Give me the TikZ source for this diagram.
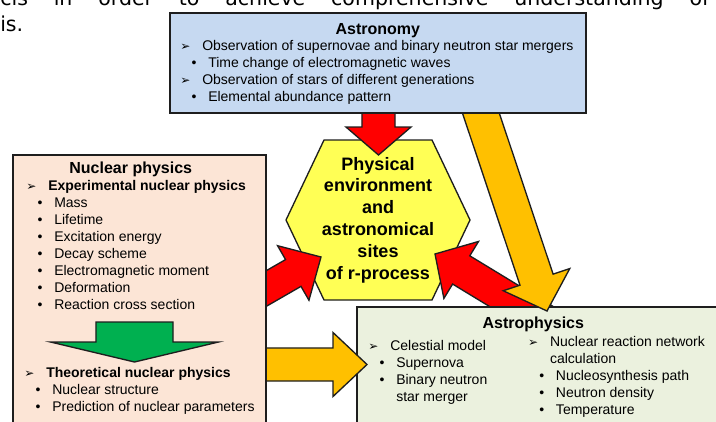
\documentclass[tikz,border=0pt]{standalone}
\usepackage{fontspec}
\setmainfont{Liberation Sans}
\newfontfamily\markfont{DejaVu Sans}
\newfontfamily\parafont{DejaVu Sans}
\usetikzlibrary{calc}
\usetikzlibrary{positioning}

\definecolor{astronomyfill}{RGB}{198,217,241}
\definecolor{nuclearfill}{RGB}{252,229,214}
\definecolor{astrofill}{RGB}{235,241,222}
\definecolor{sitefill}{RGB}{255,255,85}
\definecolor{flowred}{RGB}{255,0,0}
\definecolor{floworange}{RGB}{255,192,0}
\definecolor{flowgreen}{RGB}{0,176,80}
\definecolor{edge}{RGB}{30,30,30}

% list markers
\newcommand{\pointitem}{\makebox[16.5pt][l]{\markfont\fontsize{9}{10}\selectfont ➢}}
\newcommand{\dotitem}{\hspace*{8.6pt}\makebox[12.4pt][l]{•}}

% block arrow: [style]{from}{to}{half shaft}{half head}{head length}
\newcommand{\blockarrow}[6][]{%
  \coordinate (ba-neck) at ($(#3)!#6!(#2)$);
  \draw[flow,#1] ($(#2)!#4!90:(#3)$) -- ($(ba-neck)!#4!90:(#3)$) -- ($(ba-neck)!#5!90:(#3)$)
    -- (#3) -- ($(ba-neck)!#5!-90:(#3)$) -- ($(ba-neck)!#4!-90:(#3)$) -- ($(#2)!#4!-90:(#3)$) -- cycle;}

\tikzset{
  panel/.style={draw=edge, line width=1.2pt, inner sep=0pt, anchor=north west},
  paneltitle/.style={inner sep=0pt, font=\bfseries\fontsize{12}{14.4}\selectfont},
  itemlist/.style={inner sep=0pt, align=left, font=\fontsize{10.5}{12.75}\selectfont},
  para/.style={inner sep=0pt, anchor=base west, font=\parafont\fontsize{15.4}{18}\selectfont},
  sitebox/.style={draw=edge, line width=1pt, fill=sitefill},
  sitetext/.style={inner sep=0pt, align=center, font=\bfseries\fontsize{13.5}{16.35}\selectfont},
  flow/.style={draw=edge, line width=1pt, line join=miter},
  redflow/.style={fill=flowred},
  orangeflow/.style={fill=floworange},
  greenflow/.style={fill=flowgreen}
}

\begin{document}
\begin{tikzpicture}[x=0.75pt,y=-0.75pt]
  \useasboundingbox (0,0) rectangle (716,421);
  \clip (0,0) rectangle (716,421);

  % running text above
  \node[para] (line1) at (0,5.3) {\makebox[531.75pt][s]{cis in order to achieve comprehensive understanding of}};
  \node[para] (line2) at (0,31.7) {is.};

  % centre hexagon
  \coordinate (sitec) at (378,220);
  \draw[sitebox, shift={(sitec)}] (-92,0) -- (-54,-80) -- (54,-80) -- (92,0) -- (54,80) -- (-54,80) -- cycle;

  % arrow ends
  \coordinate (astronomy-red) at (378.5,105);
  \coordinate (site-top) at (378.5,155);
  \coordinate (nuclear-red) at (255,295);
  \coordinate (site-left) at (321,257);
  \coordinate (astrophysics-red) at (560,330);
  \coordinate (site-right) at (435,254);
  \coordinate (astronomy-orange) at (476.5,100);
  \coordinate (astrophysics-top) at (547,311);
  \coordinate (nuclear-orange) at (255,364.5);
  \coordinate (astrophysics-left) at (367,364.5);
  \coordinate (experiment-down) at (134.5,322);
  \coordinate (theory-top) at (134.5,362);

  \blockarrow[redflow]{astronomy-red}{site-top}{12.4pt}{24.4pt}{21pt}
  \blockarrow[redflow]{nuclear-red}{site-left}{11.6pt}{23.6pt}{24pt}
  \blockarrow[redflow]{astrophysics-red}{site-right}{12.4pt}{25pt}{23pt}

  \node[sitetext] (site) at (sitec) {Physical\\environment\\and\\astronomical\\sites\\of r-process};

  % Astrophysics
  \node[panel, fill=astrofill, minimum width=285pt, minimum height=93pt] (astrophysics) at (356,306) {};
  \node[paneltitle, below=6.57pt of astrophysics.north, xshift=-10.1pt] (astrophysicstitle) {\strut Astrophysics};
  \node[itemlist, below right=24.2pt and 9pt of astrophysics.north west] (celestial) {%
    \strut\pointitem Celestial model\\
    \dotitem Supernova\\
    \dotitem Binary neutron\\
    \hspace*{21pt}star merger};
  \node[itemlist, below right=21.2pt and 128.8pt of astrophysics.north west] (network) {%
    \strut\pointitem Nuclear reaction network\\
    \hspace*{16.5pt}calculation\\
    \dotitem Nucleosynthesis path\\
    \dotitem Neutron density\\
    \dotitem Temperature};

  \blockarrow[orangeflow]{astronomy-orange}{astrophysics-top}{13.1pt}{26.3pt}{24.8pt}
  \blockarrow[orangeflow]{nuclear-orange}{astrophysics-left}{12.4pt}{24pt}{25.5pt}

  % Astronomy
  \node[panel, fill=astronomyfill, minimum width=312pt, minimum height=75pt] (astronomy) at (169,12) {};
  \node[paneltitle, below=6.27pt of astronomy.north] (astronomytitle) {\strut Astronomy};
  \node[itemlist, below right=19.95pt and 8.25pt of astronomy.north west] (observation) {%
    \strut\pointitem Observation of supernovae and binary neutron star mergers\\
    \dotitem Time change of electromagnetic waves\\
    \pointitem Observation of stars of different generations\\
    \dotitem Elemental abundance pattern};

  % Nuclear physics
  \node[panel, fill=nuclearfill, minimum width=189.75pt, minimum height=207pt] (nuclear) at (12,154) {};
  \node[paneltitle, below=4.55pt of nuclear.north, xshift=-6.4pt] (nucleartitle) {\strut Nuclear physics};
  \node[itemlist, below right=18.45pt and 10.5pt of nuclear.north west] (experiment) {%
    \strut\pointitem\textbf{Experimental nuclear physics}\\
    \dotitem Mass\\
    \dotitem Lifetime\\
    \dotitem Excitation energy\\
    \dotitem Decay scheme\\
    \dotitem Electromagnetic moment\\
    \dotitem Deformation\\
    \dotitem Reaction cross section};
  \blockarrow[greenflow]{experiment-down}{theory-top}{28.9pt}{63pt}{15pt}
  \node[itemlist, below right=158.5pt and 9pt of nuclear.north west] (theory) {%
    \strut\pointitem\textbf{Theoretical nuclear physics}\\
    \dotitem Nuclear structure\\
    \dotitem Prediction of nuclear parameters};
\end{tikzpicture}
\end{document}
